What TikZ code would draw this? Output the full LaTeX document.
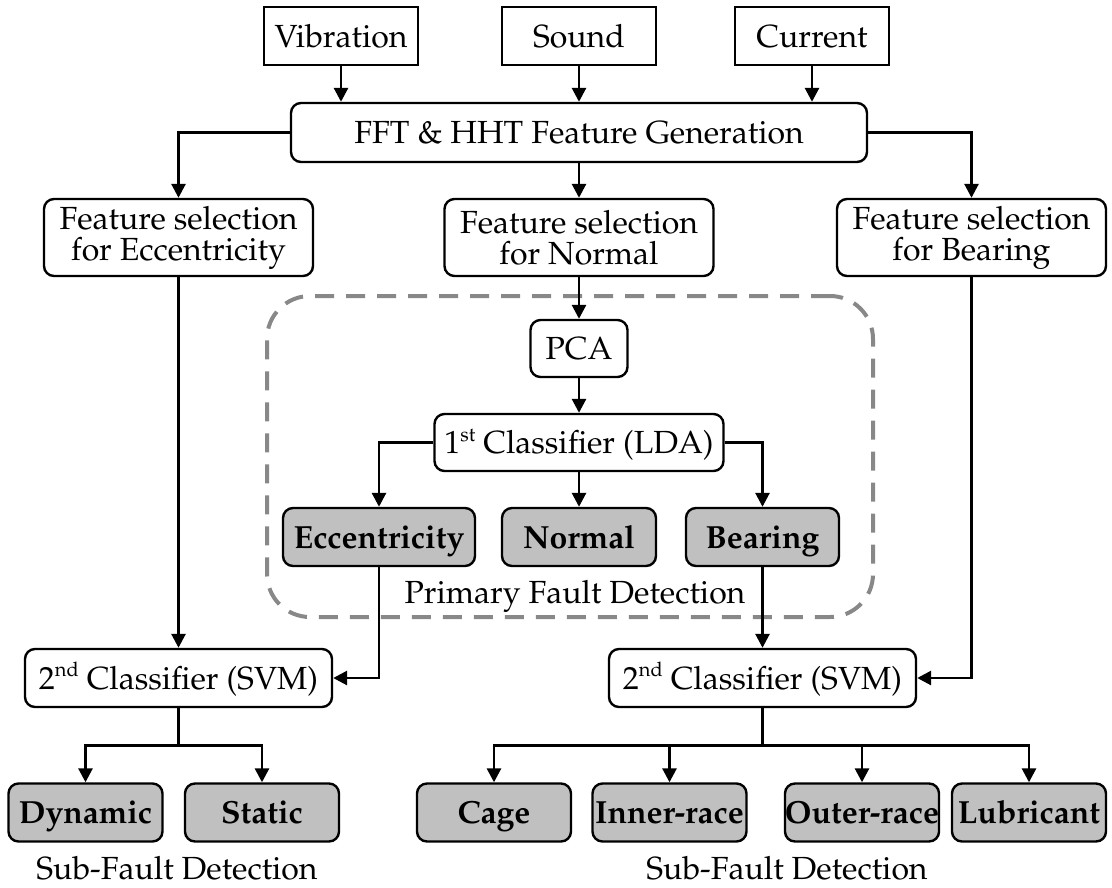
\documentclass[tikz,border=0pt]{standalone}
\usepackage[T1]{fontenc}
\usepackage{mathpazo}
\usetikzlibrary{arrows.meta}
\definecolor{boxgray}{HTML}{C0C0C0}
\definecolor{dashgray}{HTML}{888888}
\newcommand{\supx}[1]{\raisebox{12.5pt}{\fontsize{20}{20}\selectfont #1}}
\begin{document}
\begin{tikzpicture}[x=1pt,y=-1pt,
  txt/.style={font=\fontsize{32}{31}\selectfont},
  base/.style={draw, line width=2.4pt, inner sep=0pt, align=center, txt},
  sq/.style={base, minimum height=58pt, minimum width=154pt, text height=22pt, text depth=0pt},
  rb/.style={sq, rounded corners=10pt},
  fs/.style={base, rounded corners=10pt, minimum width=269pt, minimum height=77pt},
  gb/.style={rb, fill=boxgray, font=\fontsize{32}{31}\selectfont\bfseries},
  arr/.style={line width=2.8pt, -{Triangle[length=14pt,width=14pt]}},
  ln/.style={line width=2.8pt}]
\useasboundingbox (0,0) rectangle (1112,887);
% primary fault detection frame
\node[draw=dashgray, line width=4pt, dash pattern=on 19pt off 12pt, rounded corners=43pt,
      minimum width=606pt, minimum height=321pt, inner sep=0pt] (frame) at (570,456.5) {};
% inputs
\node[sq] (vib) at (341,36) {Vibration};
\node[sq] (snd) at (579,36) {Sound};
\node[sq] (cur) at (812,36) {Current};
\node[rb, minimum width=576pt, minimum height=59pt] (fft) at (579,132.5) {FFT \& HHT Feature Generation};
% feature selection
\node[fs] (fsE) at (178.5,237.5) {Feature selection\\for Eccentricity};
\node[fs] (fsN) at (579,237.5) {Feature selection\\for Normal};
\node[fs] (fsB) at (971.5,237.5) {Feature selection\\for Bearing};
% primary
\node[rb, minimum width=97pt, minimum height=57pt] (pca) at (579,348.5) {PCA};
\node[rb, minimum width=289pt, minimum height=57pt] (lda) at (579,442.5) {1\supx{st} Classifier (LDA)};
\node[gb, minimum width=192pt] (ecc) at (379,537) {Eccentricity};
\node[gb] (nor) at (579,537) {Normal};
\node[gb, minimum width=153pt] (bea) at (762.5,537) {Bearing};
\node[txt, anchor=base] (pfd) at (575,603) {Primary Fault Detection};
% second classifiers
\node[rb, minimum width=307pt] (svmL) at (178.5,678) {2\supx{nd} Classifier (SVM)};
\node[rb, minimum width=307pt] (svmR) at (762.5,678) {2\supx{nd} Classifier (SVM)};
% sub faults
\node[gb] (dyn) at (85.5,812.5) {Dynamic};
\node[gb] (sta) at (262,812.5) {Static};
\node[gb] (cag) at (494,812.5) {Cage};
\node[gb] (inn) at (669.5,812.5) {Inner-race};
\node[gb] (out) at (862,812.5) {Outer-race};
\node[gb] (lub) at (1029,812.5) {Lubricant};
\node[txt, anchor=base] (sfL) at (177,879) {Sub-Fault Detection};
\node[txt, anchor=base] (sfR) at (787,879) {Sub-Fault Detection};
% connectors
\draw[arr] (vib.south) -- (vib.south |- fft.north);
\draw[arr] (snd.south) -- (snd.south |- fft.north);
\draw[arr] (cur.south) -- (cur.south |- fft.north);
\draw[arr] (fft.west) -| (fsE.north);
\draw[arr] (fft.south) -- (fsN.north);
\draw[arr] (fft.east) -| (fsB.north);
\draw[arr] (fsN.south) -- (pca.north);
\draw[arr] (pca.south) -- (lda.north);
\draw[arr] (lda.west) -| (ecc.north);
\draw[arr] (lda.south) -- (nor.north);
\draw[arr] (lda.east) -| (bea.north);
\draw[arr] (fsE.south) -- (svmL.north);
\draw[arr] (ecc.south) |- (svmL.east);
\draw[arr] (bea.south) -- (svmR.north);
\draw[arr] (fsB.south) |- (svmR.east);
\coordinate (jL) at (178.5,745.5);
\coordinate (jR) at (762.5,745.5);
\draw[ln] (svmL.south) -- (jL);
\draw[arr] (jL) -| (dyn.north);
\draw[arr] (jL) -| (sta.north);
\draw[ln] (svmR.south) -- (jR);
\draw[arr] (jR) -| (cag.north);
\draw[arr] (jR) -| (inn.north);
\draw[arr] (jR) -| (out.north);
\draw[arr] (jR) -| (lub.north);
\end{tikzpicture}
\end{document}
